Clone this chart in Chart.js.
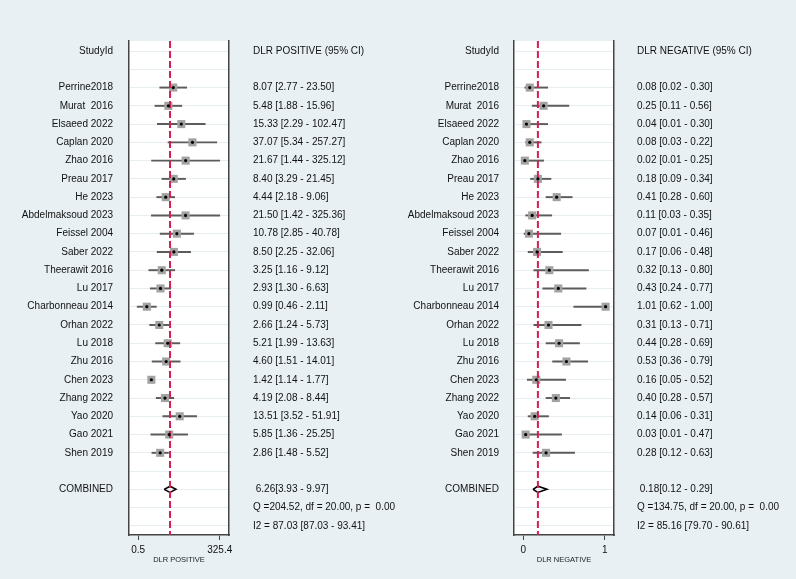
<!DOCTYPE html>
<html>
<head>
<meta charset="utf-8">
<script src="https://cdn.jsdelivr.net/npm/chart.js@4.4.1/dist/chart.umd.min.js"></script>
<style>
  html, body { margin: 0; padding: 0; background: #e8f0f3; }
  #wrap { position: relative; width: 796px; height: 579px; }
  canvas { position: absolute; top: 0; }
</style>
</head>
<body>
<div id="wrap">
  <canvas id="pos" width="398" height="579" style="left:0"></canvas>
  <canvas id="neg" width="398" height="579" style="left:398px"></canvas>
</div>
<script>
// forest plots: DLR positive / DLR negative

const studies = [
  'Perrine2018', 'Murat  2016', 'Elsaeed 2022', 'Caplan 2020', 'Zhao 2016',
  'Preau 2017', 'He 2023', 'Abdelmaksoud 2023', 'Feissel 2004', 'Saber 2022',
  'Theerawit 2016', 'Lu 2017', 'Charbonneau 2014', 'Orhan 2022', 'Lu 2018',
  'Zhu 2016', 'Chen 2023', 'Zhang 2022', 'Yao 2020', 'Gao 2021', 'Shen 2019'
];

const posEst = [8.07, 5.48, 15.33, 37.07, 21.67, 8.40, 4.44, 21.50, 10.78, 8.50,
  3.25, 2.93, 0.99, 2.66, 5.21, 4.60, 1.42, 4.19, 13.51, 5.85, 2.86];
const posLo = [2.77, 1.88, 2.29, 5.34, 1.44, 3.29, 2.18, 1.42, 2.85, 2.25,
  1.16, 1.30, 0.46, 1.24, 1.99, 1.51, 1.14, 2.08, 3.52, 1.36, 1.48];
const posHi = [23.50, 15.96, 102.47, 257.27, 325.12, 21.45, 9.06, 325.36, 40.78, 32.06,
  9.12, 6.63, 2.11, 5.73, 13.63, 14.01, 1.77, 8.44, 51.91, 25.25, 5.52];
const posCombined = [6.26, 3.93, 9.97];      // estimate, lower, upper
const posQ = [204.52, 20.00, 0.00];           // Q, df, p
const posI2 = [87.03, 87.03, 93.41];
const posTicks = [0.5, 325.4];

const negEst = [0.08, 0.25, 0.04, 0.08, 0.02, 0.18, 0.41, 0.11, 0.07, 0.17,
  0.32, 0.43, 1.01, 0.31, 0.44, 0.53, 0.16, 0.40, 0.14, 0.03, 0.28];
const negLo = [0.02, 0.11, 0.01, 0.03, 0.01, 0.09, 0.28, 0.03, 0.01, 0.06,
  0.13, 0.24, 0.62, 0.13, 0.28, 0.36, 0.05, 0.28, 0.06, 0.01, 0.12];
const negHi = [0.30, 0.56, 0.30, 0.22, 0.25, 0.34, 0.60, 0.35, 0.46, 0.48,
  0.80, 0.77, 1.00, 0.71, 0.69, 0.79, 0.52, 0.57, 0.31, 0.47, 0.63];
const negCombined = [0.18, 0.12, 0.29];
const negQ = [134.75, 20.00, 0.00];
const negI2 = [85.16, 79.70, 90.61];
const negTicks = [0, 1];

const FONT = "Arial, 'Liberation Sans', sans-serif";
const f2 = v => v.toFixed(2);

function makeForest(id, o) {
  const n = studies.length;
  const rowOf = i => i + 2;          // rows 0 header, 1 blank
  const combRow = n + 3;
  const lastRow = n + 5;
  const rows = [];
  for (let r = 0; r <= lastRow; r++) rows.push(r);

  const leftText = rows.map(() => '');
  const rightText = rows.map(() => '');
  leftText[0] = 'StudyId';
  rightText[0] = o.header;
  studies.forEach((s, i) => {
    leftText[rowOf(i)] = s;
    rightText[rowOf(i)] = f2(o.est[i]) + ' [' + f2(o.lo[i]) + ' - ' + f2(o.hi[i]) + ']';
  });
  const [ce, cl, ch] = o.comb;
  leftText[combRow] = 'COMBINED';
  rightText[combRow] = ' ' + f2(ce) + '[' + f2(cl) + ' - ' + f2(ch) + ']';
  rightText[combRow + 1] = 'Q =' + f2(o.q[0]) + ', df = ' + f2(o.q[1]) + ', p =  ' + f2(o.q[2]);
  rightText[combRow + 2] = 'I2 = ' + f2(o.i2[0]) + ' [' + f2(o.i2[1]) + ' - ' + f2(o.i2[2]) + ']';

  const yMin = -0.55, yMax = lastRow + 0.5;
  const dh = 0.17;

  const yCommon = {
    type: 'linear', reverse: true, min: yMin, max: yMax, bounds: 'data', offset: false,
    afterBuildTicks: s => { s.ticks = rows.map(v => ({ value: v })); },
    ticks: { autoSkip: false, font: { family: FONT, size: 10 }, color: '#111' }
  };

  new Chart(document.getElementById(id), {
    type: 'scatter',
    data: {
      datasets: [
        { // black centre dots
          data: o.est.map((v, i) => ({ x: v, y: rowOf(i) })),
          pointStyle: 'circle', pointRadius: 1.6, backgroundColor: '#000',
          borderWidth: 0, order: 0
        },
        { // reference line at pooled estimate
          data: [{ x: ce, y: yMin }, { x: ce, y: yMax }],
          showLine: true, borderColor: '#d61f4f', borderWidth: 2,
          borderDash: [7, 3], pointRadius: 0, order: 1
        },
        { // pooled diamond
          data: [{ x: cl, y: combRow }, { x: ce, y: combRow - dh }, { x: ch, y: combRow },
                 { x: ce, y: combRow + dh }, { x: cl, y: combRow }],
          showLine: true, borderColor: '#000', borderWidth: 1.6, pointRadius: 0,
          fill: false, order: 2
        },
        { // weight squares
          data: o.est.map((v, i) => ({ x: v, y: rowOf(i) })),
          pointStyle: 'rect', pointRadius: 5.7, backgroundColor: '#a2a2a2',
          borderWidth: 0, order: 3
        },
        { // confidence intervals
          type: 'bar', indexAxis: 'y',
          data: o.lo.map((v, i) => ({ x: [v, o.hi[i]], y: rowOf(i) })),
          backgroundColor: '#5c5c5c', borderWidth: 0, barThickness: 1.3,
          order: 4
        }
      ]
    },
    options: {
      responsive: false,
      animation: false,
      events: [],
      layout: { padding: { top: 41, left: 0, right: 0, bottom: 0 } },
      plugins: { legend: { display: false }, tooltip: { enabled: false } },
      scales: {
        x: {
          type: o.xType, position: 'bottom', min: o.xMin, max: o.xMax, offset: false, bounds: 'data',
          afterFit: s => { s.height = 44; },
          afterBuildTicks: s => { s.ticks = o.ticks.map(v => ({ value: v })); },
          grid: { drawOnChartArea: false, drawTicks: true, tickLength: 5, color: '#444', lineWidth: 1 },
          border: { display: true, color: '#444', width: 1.5 },
          ticks: { padding: 4, autoSkip: false, maxRotation: 0, color: '#111',
                   font: { family: FONT, size: 10 }, callback: v => String(v) },
          title: { display: true, text: o.axisTitle, color: '#222',
                   font: { family: FONT, size: 7.5 }, padding: { top: 0, bottom: 15 } }
        },
        y: Object.assign({}, yCommon, {
          position: 'left',
          afterFit: s => { s.width = o.leftW; },
          grid: { display: true, drawTicks: false, color: '#e7eef1', lineWidth: 1, offset: false },
          border: { display: true, color: '#444', width: 1.5 },
          ticks: Object.assign({}, yCommon.ticks, { padding: o.pad, callback: v => leftText[v] })
        }),
        y2: Object.assign({}, yCommon, {
          position: 'right',
          afterFit: s => { s.width = o.rightW; },
          grid: { display: false },
          border: { display: true, color: '#444', width: 1.5 },
          ticks: Object.assign({}, yCommon.ticks, { padding: o.pad, callback: v => rightText[v] })
        })
      }
    },
    plugins: [{
      id: 'whiteArea',
      beforeDraw(c) {
        const a = c.chartArea, ctx = c.ctx;
        ctx.save();
        ctx.fillStyle = '#ffffff';
        ctx.fillRect(a.left, a.top, a.right - a.left, a.bottom - a.top);
        ctx.restore();
      }
    }]
  });
}

makeForest('pos', {
  est: posEst, lo: posLo, hi: posHi, comb: posCombined, q: posQ, i2: posI2,
  header: 'DLR POSITIVE (95% CI)', axisTitle: 'DLR POSITIVE',
  xType: 'logarithmic', xMin: 0.24, xMax: 679, ticks: posTicks,
  leftW: 129, rightW: 169, pad: 16
});

makeForest('neg', {
  est: negEst, lo: negLo, hi: negHi, comb: negCombined, q: negQ, i2: negI2,
  header: 'DLR NEGATIVE (95% CI)', axisTitle: 'DLR NEGATIVE',
  xType: 'linear', xMin: -0.113, xMax: 1.113, ticks: negTicks,
  leftW: 116, rightW: 182, pad: 15
});
</script>
</body>
</html>
